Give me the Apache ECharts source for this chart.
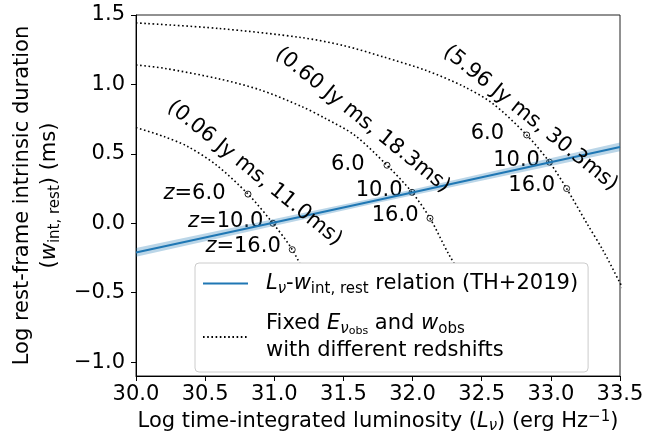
<!DOCTYPE html>
<html><head><meta charset="utf-8">
<script src="https://cdn.jsdelivr.net/npm/echarts@6/dist/echarts.min.js"></script>
<style>html,body{margin:0;padding:0;background:#fff}#c{width:668px;height:444px}</style>
</head><body><div id="c"></div>
<script>
// ---- data ----
const xTicks = [30.0, 30.5, 31.0, 31.5, 32.0, 32.5, 33.0, 33.5];
const yTicks = [-1.0, -0.5, 0.0, 0.5, 1.0, 1.5];

// L_nu - w_int,rest relation (TH+2019) with its uncertainty band
const relX = [30.0, 31.75, 33.5];
const relY = [-0.21, 0.168, 0.55];
const relErr = [0.032, 0.02, 0.032];

// dotted curves: fixed fluence & observed width, varying redshift
const curveLow = [[30.0,0.69],[30.2,0.625],[30.37,0.555],[30.58,0.42],[30.81,0.21],[30.99,0.0],[31.13,-0.19],[31.26,-0.44],[31.38,-0.64],[31.49,-0.85]];
const curveMid = [[30.0,1.14],[30.2,1.117],[30.6,1.04],[30.9,0.96],[31.2,0.84],[31.37,0.755],[31.58,0.635],[31.815,0.418],[31.996,0.223],[32.126,0.036],[32.26,-0.22],[32.38,-0.42],[32.49,-0.63]];
const curveHigh = [[30.0,1.443],[30.6,1.403],[31.2,1.337],[31.5,1.28],[31.79,1.198],[32.1,1.10],[32.37,0.985],[32.58,0.862],[32.825,0.636],[32.99,0.44],[33.114,0.25],[33.26,0.0],[33.38,-0.20],[33.49,-0.41],[33.6,-0.62]];

// redshift markers on each curve (z = 6, 10, 16)
const redshifts = ['6.0', '10.0', '16.0'];
const markLow = [[30.81,0.21],[30.99,0.0],[31.13,-0.19]];
const markMid = [[31.815,0.418],[31.996,0.223],[32.126,0.036]];
const markHigh = [[32.825,0.636],[32.99,0.44],[33.114,0.25]];

// curve annotations
const curveNames = ['(0.06 Jy ms, 11.0ms)', '(0.60 Jy ms, 18.3ms)', '(5.96 Jy ms, 30.3ms)'];
const curveLabelAt = [[30.857,0.360],[31.638,0.742],[32.852,0.756]];

// ---- styling ----
const FONT = 'DejaVu Sans';
const FS = 21;
const SUB = 15;
const BLUE = '#1f77b4';
const lblDist = [19, 6, 8];
const lblUp = [1, 2, 3];

const richBase = (L) => ({
  t: {fontFamily: FONT, fontSize: FS, color: '#000', lineHeight: L},
  i: {fontFamily: FONT, fontSize: FS, color: '#000', fontStyle: 'italic', lineHeight: L},
  s: {fontFamily: FONT, fontSize: SUB, color: '#000', lineHeight: L - 9, verticalAlign: 'bottom'},
  si: {fontFamily: FONT, fontSize: SUB, color: '#000', fontStyle: 'italic', lineHeight: L - 9, verticalAlign: 'bottom'},
  ss: {fontFamily: FONT, fontSize: 11, color: '#000', lineHeight: L - 17, verticalAlign: 'bottom'},
  sup: {fontFamily: FONT, fontSize: SUB, color: '#000', lineHeight: L - 9, verticalAlign: 'top'}
});

const fmt = v => v.toFixed(1).replace('-', '\u2212');

function dotted(name, pts) {
  return {
    name: name, type: 'line', data: pts, symbol: 'none', smooth: 0.3,
    itemStyle: {color: '#000'},
    lineStyle: {color: '#000', width: 1.6, type: [1.6, 2.6], cap: 'butt'}, z: 2, silent: true
  };
}

function markers(pts, withZ) {
  return {
    type: 'scatter', symbol: 'circle', symbolSize: 6, z: 3, silent: true,
    itemStyle: {color: 'rgba(0,0,0,0)', borderColor: '#222', borderWidth: 1, opacity: 1},
    label: {show: true, rich: richBase(24), textBorderWidth: 0},
    data: pts.map((p, i) => ({
      value: p,
      label: {
        show: true, position: 'left', distance: lblDist[i], offset: [0, -lblUp[i]],
        formatter: withZ ? '{i|z}{t|=' + redshifts[i] + '}' : '{t|' + redshifts[i] + '}'
      }
    }))
  };
}

const relLine = relX.map((x, i) => [x, relY[i]]);

const REL = 'rel', FIX = 'fixed';

const option = {
  animation: false,
  backgroundColor: '#fff',
  grid: {left: 136, right: 48, top: 15, bottom: 68, show: true, borderColor: '#222', borderWidth: 1, backgroundColor: 'transparent'},
  xAxis: {
    type: 'value', min: 30.0, max: 33.5, interval: 0.5,
    axisLine: {show: true, onZero: false, lineStyle: {color: '#000', width: 1}},
    axisTick: {show: true, inside: false, length: 5, lineStyle: {color: '#000'}, customValues: xTicks},
    axisLabel: {show: true, margin: 8, fontFamily: FONT, fontSize: FS, color: '#000', formatter: fmt, customValues: xTicks},
    splitLine: {show: false},
    name: '{t|Log time-integrated luminosity (}{i|L}{si|\u03bd}{t|) (erg Hz}{sup|\u22121}{t|)}',
    nameLocation: 'middle', nameGap: 30,
    nameTextStyle: {rich: richBase(24)}
  },
  yAxis: {
    type: 'value', min: -1.1, max: 1.5,
    axisLine: {show: true, onZero: false, lineStyle: {color: '#000', width: 1}},
    axisTick: {show: true, inside: false, length: 5, lineStyle: {color: '#000'}, customValues: yTicks},
    axisLabel: {show: true, margin: 11, fontFamily: FONT, fontSize: FS, color: '#000', formatter: fmt, customValues: yTicks},
    splitLine: {show: false},
    name: '{t|Log rest-frame intrinsic duration}\n{t|(}{i|w}{s|int, rest}{t|) (ms)}',
    nameLocation: 'middle', nameGap: 70, nameRotate: 90,
    nameTextStyle: {lineHeight: 27, rich: richBase(27)}
  },
  legend: {
    data: [REL, FIX], orient: 'vertical', left: 195, top: 263,
    itemWidth: 45, itemHeight: 14, itemGap: 13,
    padding: [7, 10, 8, 7],
    backgroundColor: '#fff', borderColor: '#cccccc', borderWidth: 1, borderRadius: 4,
    selectedMode: false,
    itemStyle: {color: 'rgba(0,0,0,0)', borderWidth: 0, opacity: 0},
    textStyle: {padding: [0, 0, 0, 13], lineHeight: 27, rich: richBase(27)},
    formatter: function (n) {
      if (n === REL) return '{i|L}{si|\u03bd}{t|-}{i|w}{s|int, rest}{t| relation (TH+2019)}';
      return '{t|Fixed }{i|E}{si|\u03bd}{ss|obs}{t| and }{i|w}{s|obs}\n{t|with different redshifts}';
    }
  },
  series: [
    dotted(FIX, curveLow),
    dotted(FIX, curveMid),
    dotted(FIX, curveHigh),
    markers(markLow, true),
    markers(markMid, false),
    markers(markHigh, false),
    {
      type: 'custom', z: 4, silent: true, clip: true,
      data: relLine,
      renderItem: function (params, api) {
        if (params.dataIndex !== 0) return null;
        const pts = [];
        for (let i = 0; i < relX.length; i++) pts.push(api.coord([relX[i], relY[i] + relErr[i]]));
        for (let i = relX.length - 1; i >= 0; i--) pts.push(api.coord([relX[i], relY[i] - relErr[i]]));
        return {type: 'polygon', shape: {points: pts}, style: {fill: 'rgba(31,119,180,0.3)', stroke: null}};
      }
    },
    {name: REL, type: 'line', data: relLine, symbol: 'none', itemStyle: {color: BLUE}, lineStyle: {color: BLUE, width: 2}, z: 5, silent: true},
    {
      type: 'scatter', symbolSize: 0, z: 6, silent: true,
      itemStyle: {color: 'rgba(0,0,0,0)', opacity: 1},
      data: curveLabelAt.map((p, i) => ({value: p, name: curveNames[i]})),
      label: {show: true, position: 'inside', rotate: -39, fontFamily: FONT, fontSize: FS, color: '#000',
              textBorderWidth: 0, formatter: p => p.name}
    }
  ]
};

const chart = echarts.init(document.getElementById('c'), null, {renderer: 'canvas'});
chart.setOption(option);
</script>
</body></html>
